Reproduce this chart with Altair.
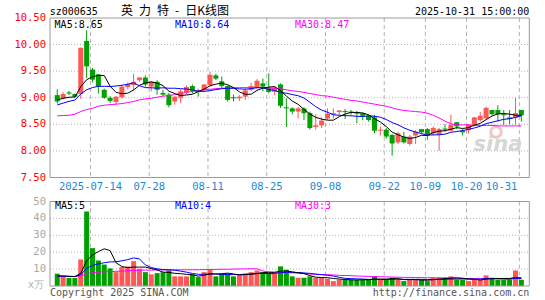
import altair as alt
import pandas as pd

# ---------------- data ----------------
opens = [9.05, 8.99, 9.10, 9.07, 9.07, 10.07, 9.53, 9.44, 9.15, 9.00,
         8.92, 9.01, 9.20, 9.24, 9.33, 9.38, 9.21, 9.30, 9.09, 9.06,
         8.93, 9.00, 9.10, 9.22, 9.13, 9.15, 9.24, 9.42, 9.31, 9.22,
         9.01, 8.99, 9.02, 9.15, 9.20, 9.27, 9.19, 9.11, 9.25, 8.82,
         8.80, 8.74, 8.80, 8.71, 8.45, 8.48, 8.61, 8.69, 8.73, 8.75,
         8.74, 8.73, 8.71, 8.66, 8.63, 8.38, 8.40, 8.30, 8.16, 8.27,
         8.13, 8.29, 8.41, 8.41, 8.33, 8.31, 8.42, 8.38, 8.54, 8.38,
         8.39, 8.49, 8.58, 8.61, 8.77, 8.77, 8.69, 8.63, 8.63, 8.77]
highs = [9.16, 9.10, 9.13, 9.08, 9.94, 10.27, 9.56, 9.45, 9.17, 9.03,
         9.03, 9.24, 9.29, 9.45, 9.39, 9.42, 9.31, 9.33, 9.15, 9.09,
         9.03, 9.16, 9.23, 9.25, 9.17, 9.26, 9.49, 9.45, 9.40, 9.23,
         9.06, 9.05, 9.18, 9.28, 9.35, 9.36, 9.46, 9.21, 9.27, 8.99,
         8.82, 8.83, 8.82, 8.74, 8.69, 8.63, 8.80, 8.80, 8.77, 8.79,
         8.77, 8.75, 8.72, 8.68, 8.68, 8.46, 8.43, 8.32, 8.36, 8.36,
         8.30, 8.39, 8.41, 8.43, 8.46, 8.43, 8.50, 8.68, 8.54, 8.41,
         8.50, 8.64, 8.73, 8.83, 8.77, 8.86, 8.77, 8.77, 9.00, 8.77]
lows = [8.89, 8.97, 9.05, 9.00, 8.98, 9.37, 9.29, 9.08, 8.98, 8.90,
        8.87, 8.98, 9.16, 9.14, 9.30, 9.21, 9.12, 9.06, 9.03, 8.82,
        8.87, 8.90, 9.06, 9.08, 9.02, 9.11, 9.21, 9.33, 9.18, 8.93,
        8.93, 8.94, 8.96, 9.12, 9.17, 9.12, 9.08, 9.05, 8.81, 8.45,
        8.69, 8.61, 8.58, 8.40, 8.40, 8.43, 8.58, 8.61, 8.68, 8.60,
        8.68, 8.52, 8.58, 8.55, 8.33, 8.29, 8.23, 7.91, 8.13, 8.14,
        8.10, 8.13, 8.33, 8.21, 8.29, 8.00, 8.36, 8.37, 8.41, 8.29,
        8.33, 8.46, 8.55, 8.60, 8.67, 8.55, 8.49, 8.50, 8.49, 8.55]
closes = [8.93, 9.07, 9.08, 9.02, 9.94, 9.59, 9.34, 9.21, 9.00, 8.94,
          9.02, 9.21, 9.26, 9.30, 9.38, 9.25, 9.30, 9.15, 9.06, 8.86,
          9.02, 9.12, 9.20, 9.13, 9.11, 9.25, 9.43, 9.36, 9.22, 8.96,
          8.99, 9.02, 9.14, 9.22, 9.32, 9.21, 9.11, 9.19, 8.85, 8.80,
          8.74, 8.80, 8.71, 8.43, 8.48, 8.57, 8.70, 8.71, 8.76, 8.73,
          8.72, 8.70, 8.66, 8.58, 8.38, 8.40, 8.27, 8.14, 8.33, 8.16,
          8.27, 8.36, 8.35, 8.31, 8.43, 8.41, 8.40, 8.49, 8.46, 8.35,
          8.49, 8.63, 8.66, 8.81, 8.69, 8.69, 8.67, 8.60, 8.71, 8.67]
pre_closes = [8.72, 8.75, 8.78, 8.80, 8.79, 8.92, 8.98, 9.00, 8.97]
ma30 = [8.66, 8.665, 8.67, 8.69, 8.74, 8.78, 8.80, 8.84, 8.86, 8.87,
        8.88, 8.89, 8.91, 8.93, 8.96, 8.98, 8.99, 9.01, 9.03, 9.04,
        9.06, 9.08, 9.10, 9.12, 9.13, 9.15, 9.16, 9.17, 9.18, 9.18,
        9.19, 9.19, 9.19, 9.19, 9.19, 9.19, 9.18, 9.18, 9.17, 9.15,
        9.13, 9.12, 9.10, 9.08, 9.06, 9.04, 9.03, 9.01, 8.99, 8.97,
        8.95, 8.94, 8.92, 8.90, 8.88, 8.86, 8.84, 8.81, 8.78, 8.76,
        8.75, 8.74, 8.73, 8.71, 8.67, 8.62, 8.56, 8.51, 8.49, 8.49,
        8.49, 8.48, 8.48, 8.48, 8.48, 8.47, 8.47, 8.47, 8.47, 8.47]
volumes = [7.3, 5.3, 4.7, 4.7, 15.7, 44.1, 22.4, 15.1, 12.7, 10.4,
           8.2, 11.2, 11.6, 14.7, 10.2, 8.2, 6.9, 7.6, 8.2, 9.2,
           5.7, 5.7, 5.7, 6.9, 5.3, 8.2, 9.6, 5.7, 7.3, 7.3,
           5.7, 6.3, 7.3, 8.2, 9.2, 8.2, 7.6, 7.3, 11.6, 9.6,
           5.7, 4.9, 4.9, 5.7, 4.9, 4.7, 4.3, 2.9, 3.7, 3.7,
           3.7, 3.7, 3.7, 3.7, 5.7, 3.7, 3.7, 4.9, 3.7, 2.9,
           3.7, 3.7, 3.7, 2.9, 4.9, 4.9, 4.9, 5.7, 3.7, 3.7,
           2.9, 3.7, 3.7, 6.3, 4.9, 3.7, 3.7, 3.7, 9.2, 3.7]
pre_vols = [5.8, 5.5, 6.0, 5.6, 5.9, 5.5, 5.8, 5.6, 5.7]
vma30 = [5.6, 5.6, 5.6, 5.6, 6.0, 7.3, 7.9, 8.2, 8.4, 8.5,
         8.7, 8.8, 9.0, 9.2, 9.3, 9.4, 9.4, 9.5, 9.5, 9.5,
         9.6, 9.6, 9.6, 9.6, 9.6, 9.7, 9.8, 9.8, 9.9, 9.9,
         10.0, 10.1, 10.1, 10.2, 10.2, 8.9, 8.3, 8.1, 8.0, 7.9,
         7.8, 7.6, 7.4, 7.1, 6.9, 6.8, 6.7, 6.5, 6.3, 6.2,
         6.1, 5.9, 5.8, 5.7, 5.6, 5.5, 5.4, 5.3, 5.2, 5.1,
         5.1, 5.0, 5.0, 4.9, 4.9, 4.8, 4.8, 4.7, 4.6, 4.5,
         4.4, 4.4, 4.3, 4.3, 4.3, 4.3, 4.3, 4.4, 4.4, 4.4]

date_idx = [6, 16, 26, 36, 46, 56, 63, 70, 79]
date_txt = ["2025-07-14", "07-28", "08-11", "08-25", "09-08",
            "09-22", "10-09", "10-20", "10-31"]
price_ticks = [7.5, 8.0, 8.5, 9.0, 9.5, 10.0, 10.5]
vol_ticks = [10, 20, 30, 40, 50]

RED, GREEN = "#ff5656", "#00a000"
GRID = "#b4b4b4"
FRAME = "#9a9a9a"
MONO = "DejaVu Sans Mono"

# ---------------- table ----------------
n = len(closes)
cs = pd.Series(pre_closes + closes)
vsr = pd.Series(pre_vols + volumes)
k = len(pre_closes)
df = pd.DataFrame({
    "i": list(range(n)), "o": opens, "h": highs, "l": lows, "c": closes,
    "v": volumes,
    "ma5": cs.rolling(5).mean().iloc[k:].values,
    "ma10": cs.rolling(10).mean().iloc[k:].values,
    "ma30": ma30,
    "vma5": vsr.rolling(5).mean().iloc[k:].values,
    "vma10": vsr.rolling(10).mean().iloc[k:].values,
    "vma30": vma30,
})
df["col"] = [RED if c >= o else GREEN for o, c in zip(opens, closes)]

W, H = 479.3, 268
xs = alt.Scale(domain=[-0.3833, 79.5], nice=False, zero=False)
ps = alt.Scale(domain=[5.4593, 10.5], nice=False, zero=False)
vs = alt.Scale(domain=[0, 158.58], nice=False, zero=False)

X = alt.X("i:Q", scale=xs, axis=None)
base = alt.Chart(df)
one = pd.DataFrame({"a": [0]})
dates_df = pd.DataFrame({"i": date_idx, "t": date_txt})


def txt(s, x, y, color, size=10, font=MONO, align="left", **kw):
    return alt.Chart(pd.DataFrame({"t": [s]})).mark_text(
        align=align, baseline="middle", color=color, fontSize=size, font=font, **kw
    ).encode(text="t:N", x=alt.value(x), y=alt.value(y))


# ---------------- price panel ----------------
p_hgrid = alt.Chart(pd.DataFrame({"p": [8.0, 8.5, 9.0, 9.5, 10.0]})).mark_rule(
    color=GRID, strokeDash=[1, 2]).encode(
    y=alt.Y("p:Q", scale=ps, axis=None), x=alt.value(0), x2=alt.value(W))
p_vgrid = alt.Chart(dates_df).mark_rule(color=GRID, strokeDash=[4, 3], xOffset=-2).encode(
    x=X, y=alt.YDatum(10.5, scale=ps, axis=None), y2=alt.Y2Datum(7.5))
p_frame = alt.Chart(one).mark_rect(fillOpacity=0, stroke=FRAME, strokeWidth=1).encode(
    x=alt.value(0), x2=alt.value(W), y=alt.YDatum(10.5, scale=ps, axis=None), y2=alt.Y2Datum(7.5))
wicks = base.mark_rule(strokeWidth=1).encode(
    x=X, y=alt.Y("l:Q", scale=ps, axis=None), y2="h:Q", color=alt.Color("col:N", scale=None))
bodies = base.mark_bar(width=5).encode(
    x=X, y=alt.Y("o:Q", scale=ps, axis=None), y2="c:Q", color=alt.Color("col:N", scale=None))


def pline(field, color, scale):
    return base.mark_line(strokeWidth=1, color=color).encode(
        x=X, y=alt.Y(f"{field}:Q", scale=scale, axis=None))


p_labels = alt.Chart(pd.DataFrame({"p": price_ticks})).mark_text(
    align="right", baseline="middle", color="#ff0000", fontSize=10.5, font=MONO).encode(
    y=alt.Y("p:Q", scale=ps, axis=None), x=alt.value(-4), text=alt.Text("p:Q", format=".2f"))
x_labels = alt.Chart(dates_df.iloc[:-1]).mark_text(
    align="center", baseline="middle", color="#1a88d8", fontSize=10.5, font=MONO, dx=-2, dy=9.5).encode(
    x=X, y=alt.YDatum(7.5, scale=ps, axis=None), text="t:N")
x_last = alt.Chart(dates_df.iloc[-1:]).mark_text(
    align="right", baseline="middle", color="#1a88d8", fontSize=10.5, font=MONO, dx=-4, dy=9.5).encode(
    x=X, y=alt.YDatum(7.5, scale=ps, axis=None), text="t:N")

logo_eye = alt.Chart(one).mark_point(
    shape="circle", size=110, strokeWidth=3, color="#f2c4c4", opacity=1).encode(
    x=alt.value(446), y=alt.value(114))

price = alt.layer(
    p_hgrid, p_vgrid, logo_eye,
    txt("sina", 448, 127, "#d6d6d6", size=21, font="DejaVu Sans", align="center",
        fontStyle="italic", fontWeight="bold"),
    wicks, bodies,
    pline("ma30", "#ff00ff", ps), pline("ma10", "#0000ff", ps), pline("ma5", "#000000", ps),
    p_frame, p_labels, x_labels, x_last,
    txt("MA5:8.65", 4.6, 7, "#000000"),
    txt("MA10:8.64", 125, 7, "#0000ff"),
    txt("MA30:8.47", 245, 7, "#ff00ff"),
    txt("sz000635", -0.3, -6.5, "#000000"),
    txt("英\u2002力\u2002特\u2002-\u2002日K线图", 71, -7, "#000000", size=12,
        font="Noto Sans CJK SC"),
    txt("2025-10-31 15:00:00", W, -6.5, "#000000", align="right"),
)

# ---------------- volume panel ----------------
v_hgrid = alt.Chart(pd.DataFrame({"p": [10, 20, 30, 40]})).mark_rule(
    color=GRID, strokeDash=[1, 2]).encode(
    y=alt.Y("p:Q", scale=vs, axis=None), x=alt.value(0), x2=alt.value(W))
v_vgrid = alt.Chart(dates_df).mark_rule(color=GRID, strokeDash=[4, 3], xOffset=-2).encode(
    x=X, y=alt.YDatum(50, scale=vs, axis=None), y2=alt.Y2Datum(0))
v_frame = alt.Chart(one).mark_rect(fillOpacity=0, stroke=FRAME, strokeWidth=1).encode(
    x=alt.value(0), x2=alt.value(W), y=alt.YDatum(50, scale=vs, axis=None), y2=alt.Y2Datum(0))
vbars = base.mark_bar(width=5).encode(
    x=X, y=alt.Y("v:Q", scale=vs, axis=None), y2=alt.Y2Datum(0),
    color=alt.Color("col:N", scale=None))
v_labels = alt.Chart(pd.DataFrame({"p": vol_ticks})).mark_text(
    align="right", baseline="middle", color="#a8a8a8", fontSize=10.5, font=MONO).encode(
    y=alt.Y("p:Q", scale=vs, axis=None), x=alt.value(-4), text="p:Q")

vol = alt.layer(
    v_hgrid, v_vgrid, vbars,
    pline("vma30", "#ff00ff", vs), pline("vma10", "#0000ff", vs), pline("vma5", "#000000", vs),
    v_frame, v_labels,
    txt("MA5:5", 5, 188, "#000000"),
    txt("MA10:4", 125, 188, "#0000ff"),
    txt("MA30:3", 245, 188, "#ff00ff"),
    txt("x万", -6, 267, "#b0b0b0", align="right"),
    txt("Copyright 2025 SINA.COM", 0, 274.5, "#555555"),
    txt("http://finance.sina.com.cn", W, 274.5, "#555555", align="right"),
)

chart = alt.layer(price, vol).resolve_scale(y="independent").properties(
    width=W, height=H,
    padding={"left": 50, "top": 18, "right": 545 - 50 - W, "bottom": 300 - 18 - H},
    autosize=alt.AutoSizeParams(type="none"),
).configure_view(stroke=None)

chart.save("out.html", embed_options={"renderer": "svg", "actions": False})
